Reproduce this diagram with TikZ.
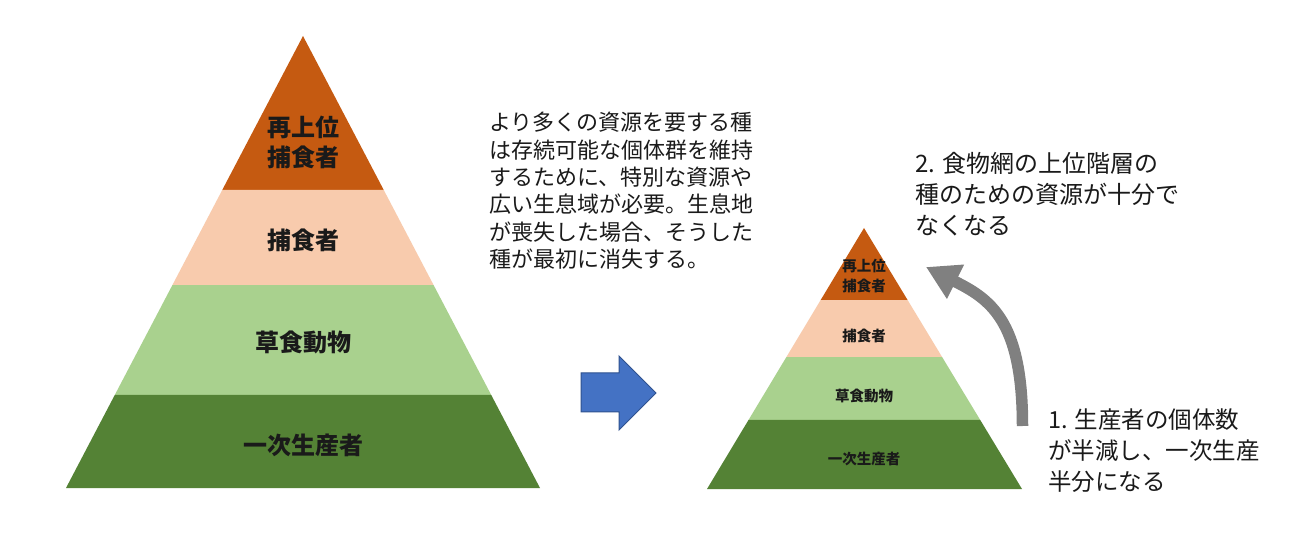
\documentclass[tikz,border=0pt]{standalone}
\usepackage{fontspec}
\setmainfont{Noto Sans CJK JP}
\usetikzlibrary{calc,arrows.meta}
\definecolor{apexc}{HTML}{C55A11}
\definecolor{predc}{HTML}{F8CBAD}
\definecolor{herbc}{HTML}{A9D18E}
\definecolor{prodc}{HTML}{548235}
\definecolor{bluec}{HTML}{4472C4}
\definecolor{bluedge}{HTML}{2F528F}
\definecolor{grayc}{HTML}{808080}
\definecolor{txtc}{HTML}{1A1A1A}
\begin{document}
\begin{tikzpicture}[x=1pt,y=-1pt,
  biglabel/.style={font=\fontsize{24}{30}\selectfont\bfseries, text=txtc, align=center, inner sep=0pt},
  smalllabel/.style={font=\fontsize{14.5}{20}\selectfont\bfseries, text=txtc, align=center, inner sep=0pt},
  notetext/.style={anchor=north west, align=left, inner sep=0pt, text=txtc},
]
\useasboundingbox (0,0) rectangle (1302,537);
\fill[white] (0,0) rectangle (1302,537);

% ---- left pyramid
\coordinate (LA) at (303,36);
\coordinate (LL) at (66,488);
\coordinate (LR) at (540,488);
\fill[apexc] (LA) -- ($(LA)!0.3407!(LL)$) -- ($(LA)!0.3407!(LR)$) -- cycle;
\fill[predc] ($(LA)!0.3407!(LL)$) -- ($(LA)!0.5509!(LL)$) -- ($(LA)!0.5509!(LR)$) -- ($(LA)!0.3407!(LR)$) -- cycle;
\fill[herbc] ($(LA)!0.5509!(LL)$) -- ($(LA)!0.7942!(LL)$) -- ($(LA)!0.7942!(LR)$) -- ($(LA)!0.5509!(LR)$) -- cycle;
\fill[prodc] ($(LA)!0.7942!(LL)$) -- (LL) -- (LR) -- ($(LA)!0.7942!(LR)$) -- cycle;

\node[biglabel] (l1) at (303,142) {再上位\\捕食者};
\node[biglabel] (l2) at (303,240) {捕食者};
\node[biglabel] (l3) at (303,342) {草食動物};
\node[biglabel] (l4) at (303,445) {一次生産者};

% ---- right pyramid
\coordinate (RA) at (864,228);
\coordinate (RL) at (707,489);
\coordinate (RR) at (1022,489);
\fill[apexc] (RA) -- ($(RA)!0.2759!(RL)$) -- ($(RA)!0.2759!(RR)$) -- cycle;
\fill[predc] ($(RA)!0.2759!(RL)$) -- ($(RA)!0.4943!(RL)$) -- ($(RA)!0.4943!(RR)$) -- ($(RA)!0.2759!(RR)$) -- cycle;
\fill[herbc] ($(RA)!0.4943!(RL)$) -- ($(RA)!0.7356!(RL)$) -- ($(RA)!0.7356!(RR)$) -- ($(RA)!0.4943!(RR)$) -- cycle;
\fill[prodc] ($(RA)!0.7356!(RL)$) -- (RL) -- (RR) -- ($(RA)!0.7356!(RR)$) -- cycle;

\node[smalllabel] (r1) at (864,276) {再上位\\捕食者};
\node[smalllabel] (r2) at (864,336) {捕食者};
\node[smalllabel] (r3) at (864,396) {草食動物};
\node[smalllabel] (r4) at (864,459) {一次生産者};

% ---- blue block arrow
\filldraw[fill=bluec, draw=bluedge, line width=1pt, line join=miter]
  (581,373) -- (619,373) -- (619,356) -- (656,393) -- (619,430) -- (619,412) -- (581,412) -- cycle;

% ---- gray curved arrow
\coordinate (ga0) at (1022.5,426);
\coordinate (ga1) at (926,267);
\draw[grayc, line width=11.5pt, -{Triangle[length=33pt,width=36pt]}]
  (ga0) .. controls (1022.5,320) and (990,299) .. (ga1);

% ---- texts
\node[notetext, font=\fontsize{22}{27.4}\selectfont] (n1) at (489,112)
  {より多くの資源を要する種\\は存続可能な個体群を維持\\するために、特別な資源や\\広い生息域が必要。生息地\\が喪失した場合、そうした\\種が最初に消失する。};
\node[notetext, font=\fontsize{24}{31}\selectfont] (n2) at (915,152)
  {2. 食物網の上位階層の\\種のための資源が十分で\\なくなる};
\node[notetext, font=\fontsize{23.5}{31}\selectfont] (n3) at (1048,409)
  {1. 生産者の個体数\\が半減し、一次生産\\半分になる};
\end{tikzpicture}
\end{document}
